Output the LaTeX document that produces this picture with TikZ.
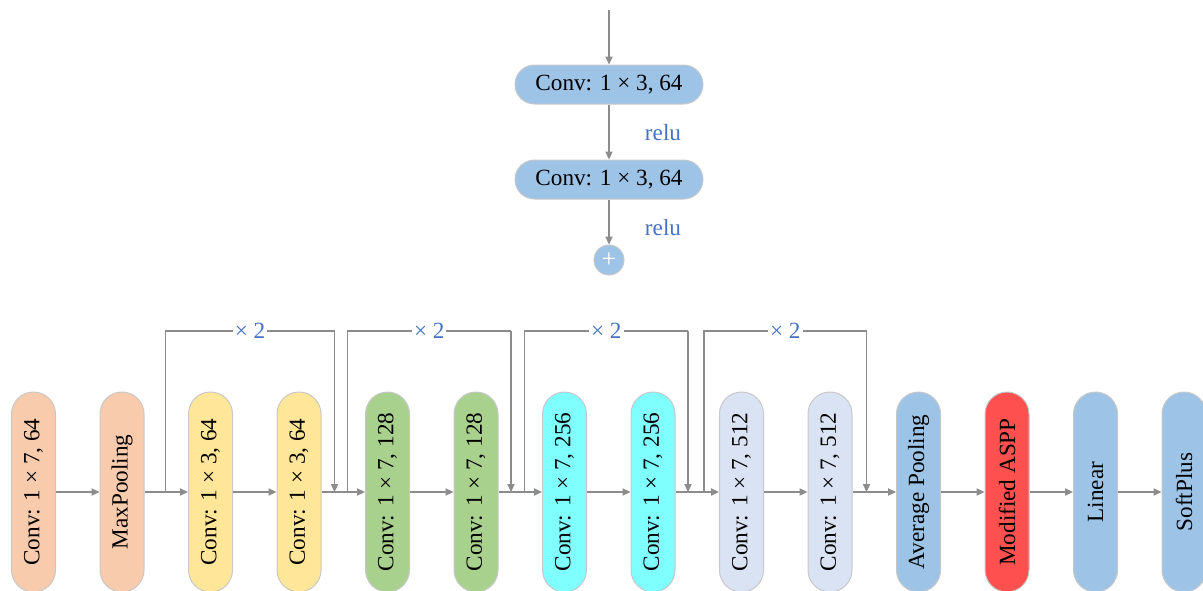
\documentclass[tikz,border=0pt]{standalone}
\usepackage{fontspec}
\setmainfont{Liberation Serif}
\usetikzlibrary{arrows.meta}
\definecolor{lgray}{HTML}{8C8C8C}
\definecolor{bordergray}{HTML}{C8C8C8}
\definecolor{cOrange}{HTML}{F8CBAD}
\definecolor{cYellow}{HTML}{FFE699}
\definecolor{cGreen}{HTML}{A9D18E}
\definecolor{cCyan}{HTML}{80FFFF}
\definecolor{cLav}{HTML}{DAE3F3}
\definecolor{cBlue}{HTML}{9DC3E6}
\definecolor{cRed}{HTML}{FF5050}
\definecolor{cText}{HTML}{4472C4}
\tikzset{
  conn/.style={draw=lgray, line width=0.7pt, -{Triangle[length=4pt,width=3.6pt]}},
  plainline/.style={draw=lgray, line width=0.7pt},
  topbox/.style={draw=bordergray, line width=0.5pt, fill=cBlue, rounded corners=9.75pt,
    minimum width=94pt, minimum height=19.5pt, inner sep=0pt, font=\fontsize{11.6}{13}\selectfont},
  vbox/.style={draw=bordergray, line width=0.5pt, rotate=90, rounded corners=11pt,
    minimum width=100pt, minimum height=22pt, inner sep=0pt, font=\fontsize{11.6}{13}\selectfont},
  lbl/.style={text=cText, font=\fontsize{11.6}{13}\selectfont, inner sep=1pt},
  timeslbl/.style={text=cText, fill=white, font=\fontsize{11.6}{13}\selectfont, inner sep=1pt}
}
\begin{document}
\begin{tikzpicture}[x=0.5pt,y=-0.5pt]
\useasboundingbox (0,0) rectangle (1203,590);
% top block
\coordinate (in) at (609,10);
\node[topbox] (c1) at (609,84.5) {Conv: 1 × 3, 64};
\node[topbox] (c2) at (609,179.5) {Conv: 1 × 3, 64};
\node[circle, draw=bordergray, line width=0.5pt, fill=cBlue, minimum size=15pt, inner sep=0pt,
  text=white, font=\fontsize{13}{13}\selectfont] (plus) at (609,260) {+};
\draw[conn] (in) -- (c1);
\draw[conn] (c1) -- (c2);
\draw[conn] (c2) -- (plus);
\node[lbl] (r1) at (663,133) {relu};
\node[lbl] (r2) at (663,228) {relu};
% bottom chain
\node[vbox, fill=cOrange] (n1) at (33.5,492) {Conv: 1 × 7, 64};
\node[vbox, fill=cOrange] (n2) at (122,492) {MaxPooling};
\node[vbox, fill=cYellow] (n3) at (210.5,492) {Conv: 1 × 3, 64};
\node[vbox, fill=cYellow] (n4) at (299,492) {Conv: 1 × 3, 64};
\node[vbox, fill=cGreen] (n5) at (387.5,492) {Conv: 1 × 7, 128};
\node[vbox, fill=cGreen] (n6) at (476,492) {Conv: 1 × 7, 128};
\node[vbox, fill=cCyan] (n7) at (564.5,492) {Conv: 1 × 7, 256};
\node[vbox, fill=cCyan] (n8) at (653,492) {Conv: 1 × 7, 256};
\node[vbox, fill=cLav] (n9) at (741.5,492) {Conv: 1 × 7, 512};
\node[vbox, fill=cLav] (n10) at (830,492) {Conv: 1 × 7, 512};
\node[vbox, fill=cBlue] (n11) at (918.5,492) {Average Pooling};
\node[vbox, fill=cRed] (n12) at (1007,492) {Modified ASPP};
\node[vbox, fill=cBlue] (n13) at (1095.5,492) {Linear};
\node[vbox, fill=cBlue] (n14) at (1184,492) {SoftPlus};
\foreach \a/\b in {n1/n2,n2/n3,n3/n4,n4/n5,n5/n6,n6/n7,n7/n8,n8/n9,n9/n10,n10/n11,n11/n12,n12/n13,n13/n14}
  \draw[conn] (\a) -- (\b);
% skip connections
\foreach \i/\xa/\xb in {1/165.5/334.5, 2/347.5/511, 3/524.5/688, 4/704/866.5}{
  \coordinate (sa\i) at (\xa,492);
  \coordinate (ta\i) at (\xa,331);
  \coordinate (tb\i) at (\xb,331);
  \coordinate (sb\i) at (\xb,492);
  \draw[plainline] (sa\i) -- (ta\i) -- node[timeslbl] (x\i) {× 2} (tb\i);
  \draw[conn] (tb\i) -- (sb\i);
}
\end{tikzpicture}
\end{document}
